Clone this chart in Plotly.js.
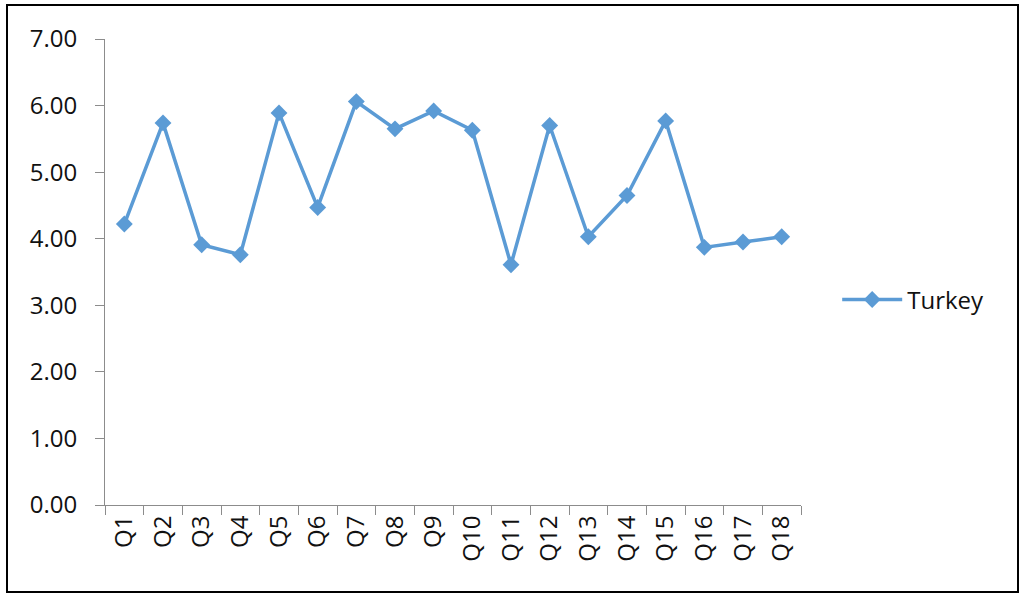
<!DOCTYPE html>
<html>
<head>
<meta charset="utf-8">
<script src="https://cdn.plot.ly/plotly-3.0.1.min.js"></script>
<style>
  html, body { margin: 0; padding: 0; background: #fff; }
  #chart { width: 1024px; height: 599px; }
</style>
</head>
<body>
<div id="chart"></div>
<script>
const categories = ["Q1","Q2","Q3","Q4","Q5","Q6","Q7","Q8","Q9","Q10","Q11","Q12","Q13","Q14","Q15","Q16","Q17","Q18"];
const turkeyValues = [4.22, 5.74, 3.91, 3.76, 5.89, 4.47, 6.06, 5.65, 5.92, 5.63, 3.61, 5.70, 4.03, 4.65, 5.77, 3.87, 3.95, 4.03];
const seriesName = "Turkey";
const yTickValues = [0, 1, 2, 3, 4, 5, 6, 7];

const trace = {
  x: categories,
  y: turkeyValues,
  name: seriesName,
  type: "scatter",
  mode: "lines+markers",
  line: { color: "#5B9BD5", width: 3.5 },
  marker: { symbol: "diamond", size: 13, color: "#5B9BD5" }
};

const fontFamily = "'Open Sans', 'Noto Sans', sans-serif";

const layout = {
  width: 1024,
  height: 599,
  margin: { l: 105, r: 223, t: 39, b: 94 },
  paper_bgcolor: "#ffffff",
  plot_bgcolor: "#ffffff",
  font: { family: fontFamily, size: 24, color: "#111111" },
  showlegend: true,
  legend: {
    x: 1.052, y: 0.44, xanchor: "left", yanchor: "middle",
    itemwidth: 60,
    font: { family: fontFamily, size: 24, color: "#111111" },
    bgcolor: "rgba(0,0,0,0)"
  },
  xaxis: {
    type: "category",
    tickangle: -90,
    showline: true,
    linecolor: "#8c8c8c",
    linewidth: 1,
    showgrid: false,
    zeroline: false,
    ticks: "outside",
    tickson: "boundaries",
    ticklen: 9,
    tickcolor: "#8c8c8c",
    tickfont: { family: fontFamily, size: 24, color: "#111111" },
    range: [-0.5, categories.length - 0.5],
    fixedrange: true
  },
  yaxis: {
    range: [0, 7],
    tickvals: yTickValues,
    tickformat: ".2f",
    showline: true,
    linecolor: "#8c8c8c",
    linewidth: 1,
    showgrid: false,
    zeroline: false,
    ticks: "outside",
    ticklen: 9,
    tickcolor: "#8c8c8c",
    tickfont: { family: fontFamily, size: 24, color: "#111111" },
    ticklabelstandoff: 13,
    fixedrange: true
  },
  shapes: [{
    type: "rect",
    xref: "paper", yref: "paper",
    x0: (7 - 105) / 696, x1: (1018 - 105) / 696,
    y0: (505 - 592) / 466, y1: (505 - 5) / 466,
    line: { color: "#000000", width: 2 },
    fillcolor: "rgba(0,0,0,0)",
    layer: "below"
  }]
};

Plotly.newPlot("chart", [trace], layout, { displayModeBar: false, staticPlot: true });
</script>
</body>
</html>
